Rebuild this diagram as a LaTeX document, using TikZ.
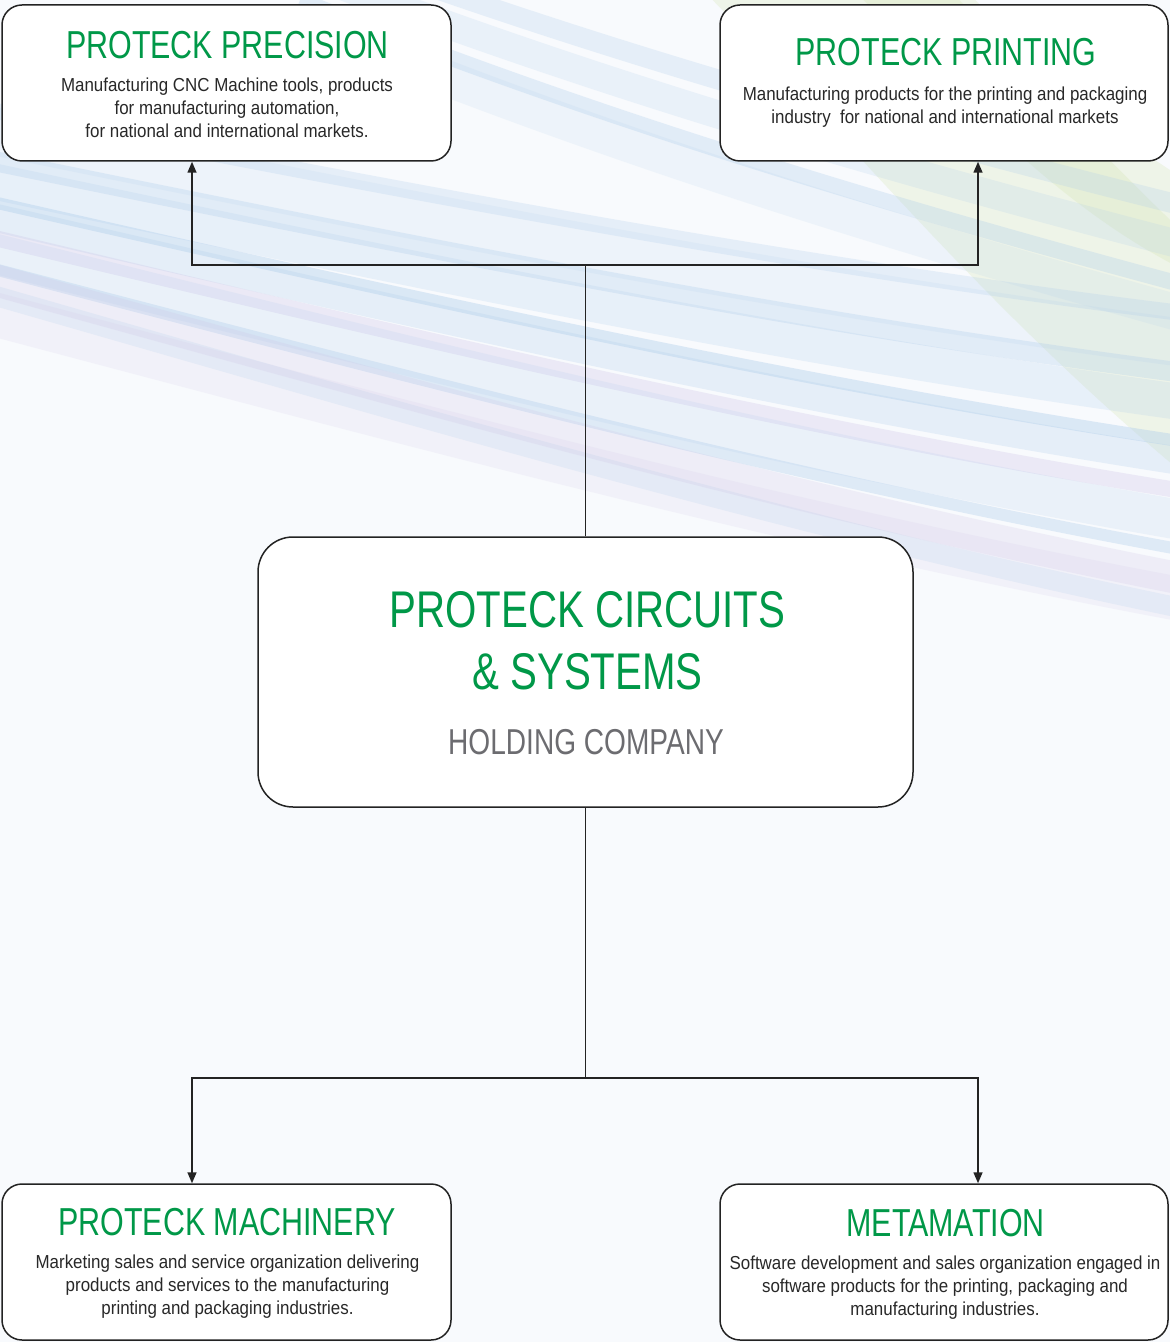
\documentclass[tikz,border=0pt]{standalone}
\usepackage{fontspec}
\setmainfont{Liberation Sans}
\newfontfamily\ttlfont{Liberation Sans}[FakeStretch=0.78]
\newfontfamily\dscfont{Liberation Sans}[FakeStretch=0.9]
\usetikzlibrary{arrows.meta}
\definecolor{pgreen}{RGB}{0,152,72}
\definecolor{ptext}{RGB}{40,40,40}
\definecolor{pgray}{RGB}{108,108,112}
\definecolor{pline}{RGB}{35,35,35}
\definecolor{pbg}{RGB}{248,250,253}
\definecolor{sblue}{RGB}{175,205,235}
\definecolor{sgreen}{RGB}{210,228,170}
\definecolor{spurple}{RGB}{205,195,230}
\begin{document}
\begin{tikzpicture}[x=0.5pt,y=-0.5pt,
  box/.style={draw=pline, line width=0.75pt, fill=white, rounded corners=10pt, inner sep=0pt},
  ttl/.style={font=\ttlfont\fontsize{19.5}{22}\selectfont, text=pgreen, anchor=base, inner sep=0pt},
  bigttl/.style={font=\ttlfont\fontsize{25.8}{30}\selectfont, text=pgreen, anchor=base, inner sep=0pt},
  sub/.style={font=\ttlfont\fontsize{18}{20}\selectfont, text=pgray, anchor=base, inner sep=0pt},
  dsc/.style={font=\dscfont\fontsize{9.4}{11.6}\selectfont, text=ptext, align=center, anchor=north, inner sep=0pt},
  conn/.style={draw=pline, line width=0.75pt},
  arr/.style={conn, -{Triangle[length=5.5pt,width=4.5pt]}}
]
% background
\fill[pbg] (0,0) rectangle (1170,1342);
\begin{scope}
\clip (0,0) rectangle (1170,1342);
% green tint, upper right
\draw[line width=90pt, sgreen, opacity=0.25] (760,-80) .. controls (900,60) and (1050,250) .. (1260,420);
\draw[line width=40pt, sgreen, opacity=0.25] (880,-40) .. controls (1000,80) and (1100,200) .. (1260,260);
% diagonal streaks
\foreach \ya/\yb/\w/\c/\o in {
  150/380/10/sblue/0.30, 170/410/18/sblue/0.22, 190/450/6/sblue/0.40,
  205/470/14/sblue/0.25, 225/500/8/spurple/0.30, 240/530/20/sblue/0.18,
  255/560/6/sblue/0.35, 265/590/16/spurple/0.22, 120/350/24/sblue/0.15,
  280/620/10/sblue/0.20, 100/320/8/sblue/0.25, 300/610/22/spurple/0.15}
  \draw[line width=\w pt, \c, opacity=\o] (-60,\ya) .. controls (350,\ya*0.7+\yb*0.3+15) and (800,\ya*0.3+\yb*0.7+15) .. (1240,\yb);
\foreach \ya/\yb/\w/\c/\o in {
  -30/260/14/sblue/0.20, 0/300/8/sblue/0.30, 20/330/18/sblue/0.15, -60/220/10/sblue/0.25}
  \draw[line width=\w pt, \c, opacity=\o] (300,\ya) .. controls (600,\ya*0.6+\yb*0.4) and (900,\ya*0.3+\yb*0.7) .. (1240,\yb);
\end{scope}

% boxes
\node[box, minimum width=224.5pt, minimum height=78pt] (tl) at (226.5,83) {};
\node[box, minimum width=224pt, minimum height=78pt] (tr) at (944,83) {};
\node[box, rounded corners=17.5pt, minimum width=327.5pt, minimum height=135pt] (ctr) at (585.5,672) {};
\node[box, minimum width=224.5pt, minimum height=78pt] (bl) at (226.5,1262) {};
\node[box, minimum width=224pt, minimum height=78pt] (br) at (944,1262) {};

% connectors
\coordinate (tla) at (192,265);
\coordinate (tra) at (978,265);
\coordinate (bla) at (192,1078);
\coordinate (bra) at (978,1078);
\draw[arr] (ctr.north) |- (tla) -- (tla |- tl.south);
\draw[arr] (ctr.north) |- (tra) -- (tra |- tr.south);
\draw[arr] (ctr.south) |- (bla) -- (bla |- bl.north);
\draw[arr] (ctr.south) |- (bra) -- (bra |- br.north);

% texts
\node[ttl] (tlt) at (227.5,58.5) {PROTECK PRECISION};
\node[dsc] (tld) at (227,77) {Manufacturing CNC Machine tools, products\\for manufacturing automation,\\for national and international markets.};

\node[ttl] (trt) at (946,66) {PROTECK PRINTING};
\node[dsc] (trd) at (945,86.5) {Manufacturing products for the printing and packaging\\industry~ for national and international markets};

\node[bigttl] (ct1) at (587.5,627) {PROTECK CIRCUITS};
\node[bigttl] (ct2) at (587.5,689) {\& SYSTEMS};
\node[sub] (ct3) at (586,754) {HOLDING COMPANY};

\node[ttl] (blt) at (227,1235) {PROTECK MACHINERY};
\node[dsc] (bld) at (227.5,1254.5) {Marketing sales and service organization delivering\\products and services to the manufacturing\\printing and packaging industries.};

\node[ttl] (brt) at (945.5,1236) {METAMATION};
\node[dsc] (brd) at (945,1255) {Software development and sales organization engaged in\\software products for the printing, packaging and\\manufacturing industries.};
\end{tikzpicture}
\end{document}
